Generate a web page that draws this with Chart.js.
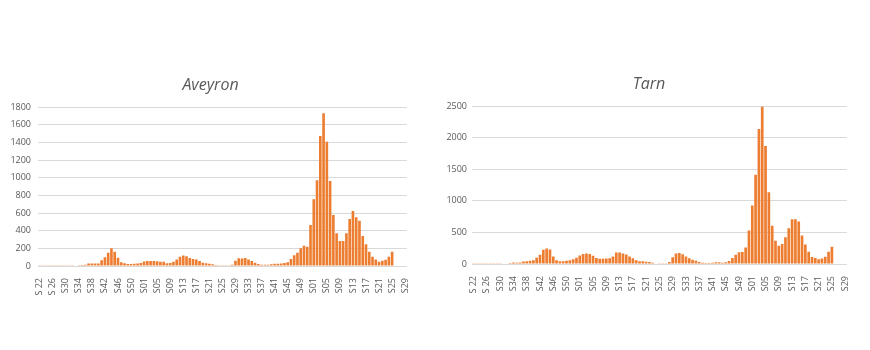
<!DOCTYPE html>
<html>
<head>
<meta charset="utf-8">
<script src="https://cdn.jsdelivr.net/npm/chart.js@4.4.1/dist/chart.umd.min.js"></script>
<style>
  body { margin: 0; background: #ffffff; }
  .wrap { position: absolute; }
  #wrapAveyron { left: 9px; top: 72px; width: 411px; height: 225px; }
  #wrapTarn { left: 446px; top: 71px; width: 414px; height: 224px; }
</style>
</head>
<body>
<div class="wrap" id="wrapAveyron"><canvas id="aveyronChart" width="411" height="225"></canvas></div>
<div class="wrap" id="wrapTarn"><canvas id="tarnChart" width="414" height="224"></canvas></div>
<script>
// ================= DATA =================
const weeks = [
  "S 22","S23","S24","S25","S 26","S27","S28","S29","S30","S31","S32","S33","S34","S35","S36","S37",
  "S38","S39","S40","S41","S42","S43","S44","S45","S46","S47","S48","S49","S50","S51","S52","S53",
  "S01","S02","S03","S04","S05","S06","S07","S08","S09","S10","S11","S12","S13","S14","S15","S16",
  "S17","S18","S19","S20","S21","S22","S23","S24","S25","S26","S27","S28","S29","S30","S31","S32",
  "S33","S34","S35","S36","S37","S38","S39","S40","S41","S42","S43","S44","S45","S46","S47","S48",
  "S49","S50","S51","S52",
  "S01","S02","S03","S04","S05","S06","S07","S08","S09","S10","S11","S12","S13","S14","S15","S16",
  "S17","S18","S19","S20","S21","S22","S23","S24","S25","S26","S27","S28","S29"
];

const aveyronCases = [
  2, 2, 2, 3, 3, 3, 3, 3, 4, 4, 4, 5, 8,
  10, 15, 28, 28, 28, 28, 65, 100, 150, 200,
  162, 92, 43, 30, 24, 22, 25, 28, 35, 50,
  56, 56, 57, 53, 49, 48, 30, 35, 49, 75,
  105, 118, 110, 90, 80, 75, 57, 38, 30, 26,
  19, 11, 8, 3, 2, 3, 15, 60, 87, 85,
  90, 75, 57, 38, 23, 15, 15, 15, 19, 26,
  26, 28, 34, 42, 79, 121, 151, 200, 230, 219,
  464, 755, 970, 1472, 1728, 1408, 962, 577, 370, 283,
  283, 370, 532, 623, 551, 513, 340, 245, 162, 106,
  75, 49, 60, 72, 106, 162,
  null, null, null, null
];

const tarnCases = [
  2, 2, 2, 3, 3, 3, 3, 4, 5, 6, 8,
  15, 22, 20, 25, 40, 45, 50, 60, 100, 145,
  225, 245, 230, 120, 60, 45, 45, 50, 60, 75,
  100, 135, 158, 165, 160, 130, 95, 85, 85, 88,
  92, 120, 180, 180, 165, 150, 120, 90, 60, 45,
  42, 37, 30, 18, 8, 5, 5, 5, 32, 108,
  168, 176, 155, 118, 92, 68, 50, 32, 21, 16,
  16, 21, 26, 26, 21, 26, 47, 95, 147, 184,
  189, 262, 530, 924, 1412, 2137, 2490, 1869, 1134, 604,
  368, 289, 315, 425, 567, 709, 709, 672, 451, 310,
  194, 110, 95, 74, 89, 115, 194, 273,
  null, null, null, null
];

// ================= STYLE =================
const BAR_COLOR = "#ED7D31";
const TEXT_COLOR = "#595959";
const GRID_COLOR = "#d9d9d9";
const FONT = "'Open Sans', sans-serif";

// ================= CHART =================
function makeChart(id, title, values, yMax, yStep, yWidth, yPad) {
  const ctx = document.getElementById(id).getContext("2d");

  return new Chart(ctx, {
    type: "bar",
    data: {
      labels: weeks,
      datasets: [{
        data: values,
        backgroundColor: BAR_COLOR,
        borderWidth: 0,
        barPercentage: 0.85,
        categoryPercentage: 0.95
      }]
    },
    options: {
      responsive: false,
      animation: false,
      layout: { padding: { left: 0, right: 8, top: 0, bottom: 0 } },
      plugins: {
        legend: { display: false },
        tooltip: { enabled: false },
        title: {
          display: true,
          text: title,
          color: TEXT_COLOR,
          font: { family: FONT, size: 16, style: "italic", weight: "normal", lineHeight: 1.2 },
          padding: { top: 4, bottom: 11.8 }
        }
      },
      scales: {
        x: {
          grid: { display: false },
          border: { display: false },
          ticks: {
            autoSkip: false,
            maxRotation: 90,
            minRotation: 90,
            padding: 4,
            color: TEXT_COLOR,
            font: { family: FONT, size: 9 },
            callback: (val, i) => (i % 4 === 0 ? weeks[i] : "")
          },
          afterFit: (scale) => { scale.height = 31; }
        },
        y: {
          min: 0,
          max: yMax,
          grid: { color: GRID_COLOR, drawTicks: false },
          border: { display: false },
          ticks: {
            stepSize: yStep,
            padding: yPad,
            color: TEXT_COLOR,
            font: { family: FONT, size: 9 },
            callback: (val) => String(val)
          },
          afterFit: (scale) => { scale.width = yWidth; }
        }
      }
    }
  });
}

makeChart("aveyronChart", "Aveyron", aveyronCases, 1800, 200, 29, 7);
makeChart("tarnChart", "Tarn", tarnCases, 2500, 500, 26, 5);
</script>
</body>
</html>
